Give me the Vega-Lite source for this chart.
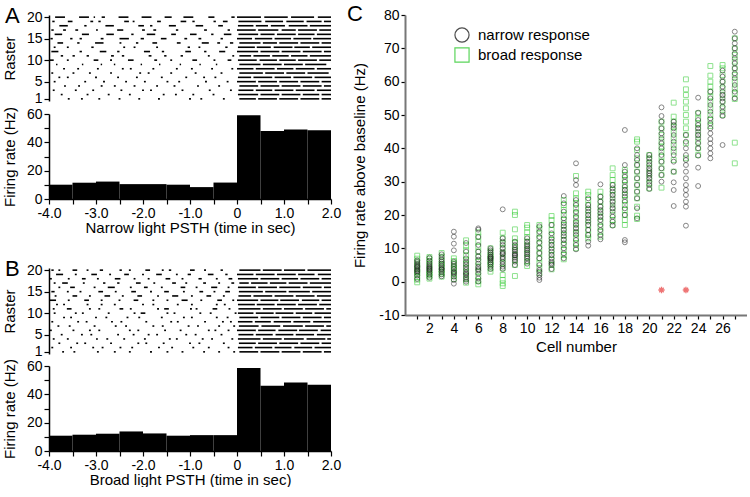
{
"$schema":"https://vega.github.io/schema/vega-lite/v6.json",
"padding":{"left":2,"top":3,"right":0,"bottom":0},
"background":"white",
"config":{"font":"Liberation Sans","view":{"stroke":null},
 "locale":{"number":{"decimal":".","thousands":",","grouping":[3],"currency":["$",""],"minus":"-"}},
 "axis":{"labelFont":"Liberation Sans","titleFont":"Liberation Sans","labelColor":"black","titleColor":"black","domainColor":"black","tickColor":"black","grid":false,"labelFontSize":14,"titleFontSize":15,"titleFontWeight":"normal","domainWidth":1.5,"tickWidth":1.2,"labelOverlap":false,"labelFlush":false},
 "legend":{"labelFont":"Liberation Sans"},
 "title":{"font":"Liberation Sans","fontWeight":"normal","fontSize":22,"color":"black"}},
"datasets":{
"psth":[
{"p":"A","t0":-4,"t1":-3.5,"r":10.1},{"p":"A","t0":-3.5,"t1":-3,"r":11.5},{"p":"A","t0":-3,"t1":-2.5,"r":12.3},{"p":"A","t0":-2.5,"t1":-2,"r":10.5},{"p":"A","t0":-2,"t1":-1.5,"r":10.5},{"p":"A","t0":-1.5,"t1":-1,"r":10.1},{"p":"A","t0":-1,"t1":-0.5,"r":8.4},{"p":"A","t0":-0.5,"t1":0,"r":11.6},{"p":"A","t0":0,"t1":0.5,"r":59.2},{"p":"A","t0":0.5,"t1":1,"r":48},{"p":"A","t0":1,"t1":1.5,"r":49},{"p":"A","t0":1.5,"t1":2,"r":48.5},
{"p":"B","t0":-4,"t1":-3.5,"r":10.8},{"p":"B","t0":-3.5,"t1":-3,"r":11.5},{"p":"B","t0":-3,"t1":-2.5,"r":12.2},{"p":"B","t0":-2.5,"t1":-2,"r":13.8},{"p":"B","t0":-2,"t1":-1.5,"r":12.4},{"p":"B","t0":-1.5,"t1":-1,"r":10.8},{"p":"B","t0":-1,"t1":-0.5,"r":11.2},{"p":"B","t0":-0.5,"t1":0,"r":11.2},{"p":"B","t0":0,"t1":0.5,"r":58.6},{"p":"B","t0":0.5,"t1":1,"r":46},{"p":"B","t0":1,"t1":1.5,"r":48.3},{"p":"B","t0":1.5,"t1":2,"r":46.7}],
"rasterA":[
{"t":20,"s":[-3.87,-3.36,-3.05,-2.88,-2.52,-2.03,-1.54,-1.14,-0.61,-0.12,0.0,0.58,1.15,1.72],"e":[-3.66,-3.15,-3.02,-2.81,-2.31,-1.82,-1.39,-0.93,-0.48,-0.05,0.51,1.08,1.64,2.0]},
{"t":19,"s":[-3.93,-3.6,-3.12,-2.95,-2.4,-2.22,-1.7,-1.2,-0.95,-0.5,-0.3,0.03,0.6,1.05,1.48,1.85],"e":[-3.88,-3.5,-3.06,-2.9,-2.3,-2.18,-1.62,-1.08,-0.9,-0.45,-0.2,0.52,0.98,1.42,1.8,2.0]},
{"t":18,"s":[-3.78,-3.25,-2.8,-2.1,-1.85,-1.45,-0.88,-0.4,0.02,0.4,0.72,1.1,1.55],"e":[-3.6,-3.2,-2.62,-1.98,-1.8,-1.3,-0.72,-0.3,0.35,0.66,1.02,1.5,2.0]},
{"t":17,"s":[-3.95,-3.7,-3.44,-3.0,-2.55,-2.02,-1.78,-1.3,-0.7,-0.2,0.0,0.45,0.95,1.3,1.75],"e":[-3.9,-3.64,-3.38,-2.96,-2.42,-1.96,-1.72,-1.25,-0.64,-0.15,0.4,0.88,1.25,1.7,2.0]},
{"t":16,"s":[-3.88,-3.3,-2.78,-2.25,-1.92,-1.4,-1.0,-0.55,-0.28,0.03,0.5,0.85,1.3,1.7],"e":[-3.72,-3.15,-2.62,-2.2,-1.74,-1.3,-0.86,-0.5,-0.12,0.45,0.8,1.25,1.65,2.0]},
{"t":15,"s":[-3.97,-3.55,-3.35,-2.9,-2.5,-2.05,-1.62,-1.12,-0.82,-0.35,0.0,0.38,0.8,1.2,1.62],"e":[-3.92,-3.5,-3.3,-2.84,-2.3,-1.98,-1.5,-1.06,-0.76,-0.3,0.32,0.75,1.15,1.58,2.0]},
{"t":14,"s":[-3.82,-3.4,-3.02,-2.5,-2.15,-1.8,-1.28,-0.75,-0.42,-0.15,0.05,0.55,0.9,1.35,1.8],"e":[-3.7,-3.35,-2.84,-2.46,-2.1,-1.7,-1.2,-0.6,-0.36,-0.08,0.5,0.85,1.3,1.75,2.0]},
{"t":13,"s":[-3.9,-3.62,-3.1,-2.42,-2.2,-1.72,-1.05,-0.82,-0.25,0.02,0.42,0.78,1.22,1.6],"e":[-3.86,-3.58,-3.05,-2.38,-2.16,-1.68,-1.0,-0.78,-0.2,0.38,0.72,1.18,1.55,2.0]},
{"t":12,"s":[-3.95,-3.35,-2.92,-2.55,-1.98,-1.6,-1.1,-0.7,-0.38,0.0,0.5,0.95,1.4,1.85],"e":[-3.8,-3.3,-2.78,-2.5,-1.85,-1.55,-0.98,-0.65,-0.25,0.45,0.9,1.35,1.8,2.0]},
{"t":11,"s":[-3.75,-3.5,-3.2,-2.68,-2.45,-1.88,-1.55,-1.2,-0.62,-0.1,0.05,0.35,0.75,1.15,1.55],"e":[-3.7,-3.45,-3.15,-2.62,-2.4,-1.82,-1.5,-1.15,-0.58,-0.06,0.3,0.7,1.1,1.5,2.0]},
{"t":10,"s":[-3.98,-3.62,-3.05,-2.7,-2.32,-1.76,-1.42,-0.95,-0.5,-0.2,0.02,0.48,0.9,1.3,1.75],"e":[-3.9,-3.58,-2.95,-2.66,-2.2,-1.7,-1.38,-0.85,-0.46,-0.12,0.42,0.85,1.25,1.7,2.0]},
{"t":9,"s":[-3.85,-3.3,-2.9,-2.62,-2.05,-1.66,-1.22,-0.8,-0.45,0.05,0.55,1.0,1.45],"e":[-3.82,-3.27,-2.87,-2.59,-2.02,-1.63,-1.19,-0.77,-0.42,0.5,0.95,1.4,1.9]},
{"t":8,"s":[-3.7,-3.4,-2.98,-2.45,-2.28,-1.8,-1.3,-0.98,-0.55,-0.12,0.0,0.4,0.85,1.25,1.7],"e":[-3.66,-3.36,-2.94,-2.41,-2.24,-1.76,-1.26,-0.94,-0.51,-0.08,0.35,0.8,1.2,1.65,2.0]},
{"t":7,"s":[-3.95,-3.5,-3.15,-2.7,-2.08,-1.9,-1.42,-0.9,-0.35,0.05,0.6,1.05,1.5],"e":[-3.91,-3.46,-3.11,-2.66,-2.04,-1.86,-1.38,-0.86,-0.31,0.55,1.0,1.45,1.95]},
{"t":6,"s":[-3.8,-3.62,-3.02,-2.55,-2.15,-1.62,-1.1,-0.72,-0.48,0.02,0.35,0.8,1.2,1.65],"e":[-3.76,-3.58,-2.98,-2.51,-2.11,-1.58,-1.06,-0.68,-0.44,0.3,0.75,1.15,1.6,2.0]},
{"t":5,"s":[-3.9,-3.25,-2.85,-2.38,-1.98,-1.5,-1.25,-0.68,-0.22,0.0,0.45,0.9,1.35,1.8],"e":[-3.86,-3.21,-2.81,-2.34,-1.94,-1.46,-1.21,-0.64,-0.18,0.4,0.85,1.3,1.75,2.0]},
{"t":4,"s":[-3.68,-3.38,-2.9,-2.62,-2.2,-1.72,-1.35,-0.85,-0.4,0.05,0.5,0.95,1.4,1.85],"e":[-3.64,-3.34,-2.86,-2.58,-2.16,-1.68,-1.31,-0.81,-0.36,0.45,0.9,1.35,1.8,2.0]},
{"t":3,"s":[-3.92,-3.45,-3.08,-2.48,-2.02,-1.85,-1.18,-0.6,-0.15,0.03,0.4,0.8,1.25,1.7],"e":[-3.88,-3.41,-3.04,-2.44,-1.98,-1.81,-1.14,-0.56,-0.11,0.35,0.75,1.2,1.65,2.0]},
{"t":2,"s":[-3.75,-3.2,-2.75,-2.3,-1.58,-1.32,-0.95,-0.52,0.02,0.5,0.95,1.4,1.8],"e":[-3.71,-3.16,-2.71,-2.26,-1.54,-1.28,-0.91,-0.48,0.45,0.9,1.35,1.75,2.0]},
{"t":1,"s":[-3.6,-3.32,-2.95,-2.52,-2.1,-1.68,-1.02,-0.78,-0.3,0.05,0.45,0.9,1.35,1.8],"e":[-3.56,-3.28,-2.91,-2.48,-2.06,-1.64,-0.98,-0.74,-0.26,0.4,0.85,1.3,1.75,2.0]}],
"rasterB":[
{"t":20,"s":[-3.95,-3.8,-3.5,-3.2,-2.92,-2.5,-2.3,-1.95,-1.6,-1.45,-1.0,-0.7,-0.35,0.05,0.55,1.0,1.5],"e":[-3.9,-3.76,-3.4,-3.16,-2.85,-2.45,-2.26,-1.85,-1.56,-1.4,-0.9,-0.66,-0.3,0.5,0.95,1.45,2.0]},
{"t":19,"s":[-3.85,-3.45,-3.1,-2.72,-2.4,-2.02,-1.72,-1.3,-1.05,-0.62,-0.25,0.0,0.4,0.85,1.3,1.72],"e":[-3.7,-3.41,-2.98,-2.68,-2.3,-1.98,-1.6,-1.26,-0.98,-0.5,-0.2,0.35,0.8,1.25,1.65,2.0]},
{"t":18,"s":[-3.98,-3.6,-3.3,-2.98,-2.6,-2.2,-1.9,-1.52,-1.18,-0.82,-0.45,-0.18,0.02,0.5,0.95,1.35,1.8],"e":[-3.94,-3.56,-3.22,-2.94,-2.48,-2.16,-1.86,-1.42,-1.14,-0.75,-0.41,-0.1,0.45,0.9,1.3,1.75,2.0]},
{"t":17,"s":[-3.9,-3.72,-3.28,-2.85,-2.55,-2.15,-1.78,-1.38,-1.1,-0.72,-0.4,-0.12,0.05,0.3,0.7,1.1,1.55],"e":[-3.86,-3.6,-3.24,-2.8,-2.5,-2.05,-1.74,-1.3,-1.06,-0.66,-0.36,-0.06,0.25,0.65,1.05,1.5,2.0]},
{"t":16,"s":[-3.8,-3.55,-3.05,-2.75,-2.28,-1.98,-1.62,-1.2,-0.88,-0.55,-0.2,0.02,0.45,0.9,1.4,1.85],"e":[-3.76,-3.45,-3.01,-2.6,-2.24,-1.9,-1.58,-1.1,-0.84,-0.42,-0.16,0.4,0.85,1.35,1.8,2.0]},
{"t":15,"s":[-3.95,-3.62,-3.35,-2.95,-2.6,-2.25,-1.85,-1.55,-1.15,-0.8,-0.5,-0.25,0.04,0.6,1.1,1.6],"e":[-3.88,-3.58,-3.31,-2.85,-2.56,-2.15,-1.81,-1.45,-1.11,-0.72,-0.46,-0.15,0.55,1.05,1.55,2.0]},
{"t":14,"s":[-3.88,-3.5,-3.15,-2.82,-2.45,-2.12,-1.7,-1.38,-0.98,-0.65,-0.3,0.03,0.35,0.8,1.25,1.7],"e":[-3.84,-3.4,-3.11,-2.7,-2.41,-2.02,-1.66,-1.25,-0.94,-0.55,-0.26,0.3,0.75,1.2,1.65,2.0]},
{"t":13,"s":[-3.98,-3.6,-3.25,-2.9,-2.52,-2.2,-1.8,-1.5,-1.18,-0.78,-0.42,-0.1,0.0,0.5,0.92,1.38,1.8],"e":[-3.85,-3.56,-3.15,-2.86,-2.48,-2.1,-1.76,-1.46,-1.05,-0.74,-0.32,-0.06,0.45,0.88,1.32,1.75,2.0]},
{"t":12,"s":[-3.85,-3.7,-3.2,-2.9,-2.62,-2.02,-1.8,-1.28,-0.98,-0.45,-0.28,0.02,0.42,0.85,1.3,1.75],"e":[-3.81,-3.66,-3.16,-2.86,-2.58,-1.98,-1.76,-1.24,-0.94,-0.41,-0.24,0.38,0.8,1.25,1.7,2.0]},
{"t":11,"s":[-3.92,-3.62,-3.15,-2.95,-2.5,-2.28,-1.7,-1.55,-1.0,-0.88,-0.52,-0.18,0.03,0.55,1.0,1.45,1.9],"e":[-3.88,-3.52,-3.11,-2.91,-2.42,-2.24,-1.66,-1.45,-0.96,-0.84,-0.42,-0.14,0.5,0.95,1.4,1.85,2.0]},
{"t":10,"s":[-3.9,-3.45,-3.3,-2.75,-2.2,-2.05,-1.5,-1.35,-0.8,-0.58,-0.05,0.02,0.4,0.82,1.25,1.65],"e":[-3.86,-3.41,-3.26,-2.71,-2.16,-1.95,-1.46,-1.31,-0.76,-0.54,-0.01,0.35,0.78,1.2,1.6,2.0]},
{"t":9,"s":[-3.7,-3.55,-3.02,-2.8,-2.35,-2.1,-1.62,-1.15,-0.98,-0.45,-0.22,0.05,0.5,0.95,1.4,1.85],"e":[-3.66,-3.51,-2.98,-2.76,-2.31,-2.06,-1.58,-1.11,-0.94,-0.41,-0.18,0.45,0.9,1.35,1.8,2.0]},
{"t":8,"s":[-3.95,-3.4,-3.22,-2.68,-2.48,-1.95,-1.42,-1.28,-0.7,-0.32,-0.15,0.02,0.38,0.78,1.2,1.62],"e":[-3.91,-3.36,-3.18,-2.64,-2.44,-1.91,-1.38,-1.24,-0.66,-0.28,-0.11,0.33,0.72,1.15,1.56,2.0]},
{"t":7,"s":[-3.82,-3.58,-3.05,-2.6,-2.38,-1.8,-1.6,-1.05,-0.85,-0.4,-0.08,0.04,0.52,0.98,1.45,1.9],"e":[-3.78,-3.54,-3.01,-2.56,-2.34,-1.76,-1.56,-1.01,-0.81,-0.36,-0.04,0.46,0.92,1.4,1.85,2.0]},
{"t":6,"s":[-3.98,-3.5,-3.15,-2.95,-2.3,-2.12,-1.55,-1.22,-0.62,-0.48,-0.2,0.0,0.45,0.88,1.32,1.78],"e":[-3.94,-3.46,-3.11,-2.91,-2.26,-2.08,-1.51,-1.18,-0.58,-0.44,-0.16,0.4,0.82,1.28,1.72,2.0]},
{"t":5,"s":[-3.75,-3.32,-3.12,-2.55,-2.22,-1.9,-1.72,-1.1,-0.9,-0.35,0.03,0.4,0.82,1.25,1.7],"e":[-3.71,-3.28,-3.08,-2.51,-2.18,-1.86,-1.68,-1.06,-0.86,-0.31,0.35,0.76,1.2,1.64,2.0]},
{"t":4,"s":[-3.92,-3.62,-3.0,-2.78,-2.42,-1.98,-1.45,-1.3,-0.75,-0.55,-0.12,0.02,0.55,1.0,1.48,1.92],"e":[-3.88,-3.58,-2.96,-2.74,-2.38,-1.94,-1.41,-1.26,-0.71,-0.51,-0.08,0.5,0.95,1.42,1.88,2.0]},
{"t":3,"s":[-3.8,-3.42,-3.25,-2.7,-2.12,-1.95,-1.58,-1.02,-0.82,-0.3,0.04,0.45,0.9,1.35,1.8],"e":[-3.76,-3.38,-3.21,-2.66,-2.08,-1.91,-1.54,-0.98,-0.78,-0.26,0.4,0.85,1.3,1.75,2.0]},
{"t":2,"s":[-3.95,-3.55,-3.08,-2.88,-2.5,-2.25,-1.68,-1.4,-0.95,-0.62,-0.2,0.02,0.38,0.8,1.22,1.65],"e":[-3.91,-3.51,-3.04,-2.84,-2.46,-2.21,-1.64,-1.36,-0.91,-0.58,-0.16,0.33,0.75,1.16,1.6,2.0]},
{"t":1,"s":[-3.72,-3.48,-2.98,-2.62,-2.3,-1.85,-1.5,-1.18,-0.72,-0.4,-0.08,0.05,0.5,0.95,1.4,1.85],"e":[-3.68,-3.44,-2.94,-2.58,-2.26,-1.81,-1.46,-1.14,-0.68,-0.36,-0.04,0.45,0.9,1.35,1.8,2.0]}],
"cells":[
{"cell":1,"g":"broad response","v":[-0.2,0.6,1.4,2.3,3.2,4.0,5.1,6.0,6.9,7.8,2.8,4.6]},
{"cell":1,"g":"narrow response","v":[0.8,1.8,2.6,3.1,3.7,4.2,4.8,5.3,5.9,6.4,3.4,4.5]},
{"cell":2,"g":"broad response","v":[0.9,1.6,2.4,3.0,3.8,4.6,5.3,6.1,6.8,7.4,2.2]},
{"cell":2,"g":"narrow response","v":[1.2,2.0,2.8,3.3,3.9,4.5,5.0,5.6,6.3,7.2,3.6,4.2]},
{"cell":3,"g":"broad response","v":[1.5,2.4,3.4,4.4,5.4,6.4,7.5,8.6,2.8,5.0]},
{"cell":3,"g":"narrow response","v":[1.6,2.2,3.0,3.6,4.1,4.7,5.4,6.0,6.6,7.4,8.2,3.8]},
{"cell":4,"g":"broad response","v":[0.8,1.7,2.6,3.5,4.4,5.3,6.2,7.0,4.0]},
{"cell":4,"g":"narrow response","v":[-0.6,0.5,1.5,2.3,3.0,3.8,4.6,5.3,6.0,9.4,11.4,13.5,15.0,2.7]},
{"cell":5,"g":"broad response","v":[-0.3,0.8,1.8,3.0,4.2,5.4,6.6,7.8,9.4,10.8,12.4]},
{"cell":5,"g":"narrow response","v":[0.0,0.6,1.2,2.0,2.8,3.6,4.4,5.2,6.0,7.0,9.0,11.6,2.4]},
{"cell":6,"g":"broad response","v":[-0.8,0.2,1.5,3.0,4.5,6.0,7.5,9.0,10.5,12.0,13.5,14.8]},
{"cell":6,"g":"narrow response","v":[0.0,1.0,2.4,3.4,4.4,5.4,6.6,7.6,9.0,11.0,13.4,15.6,16.0,3.8]},
{"cell":7,"g":"broad response","v":[3.0,4.0,5.0,6.0,7.0,8.0,9.0,10.0,5.5,7.5]},
{"cell":7,"g":"narrow response","v":[3.8,4.5,5.2,5.8,6.4,7.0,7.6,8.2,8.8,9.4,10.0,6.8,7.3]},
{"cell":8,"g":"broad response","v":[-1.3,-0.5,0.5,2.0,4.0,5.5,7.0,8.5,10.0,11.5,13.0,14.7]},
{"cell":8,"g":"narrow response","v":[3.8,4.5,5.2,6.0,6.8,7.4,8.2,9.0,10.0,11.0,12.0,13.0,21.7,8.5]},
{"cell":9,"g":"broad response","v":[1.7,5.0,6.5,8.0,9.5,10.5,11.8,13.0,15.7,20.0,21.0]},
{"cell":9,"g":"narrow response","v":[5.0,6.0,6.6,7.2,7.8,8.4,9.0,9.6,10.2,11.0,12.0,8.0]},
{"cell":10,"g":"broad response","v":[4.7,6.0,7.2,8.4,9.6,10.8,12.0,13.4,14.8,16.2,17.0]},
{"cell":10,"g":"narrow response","v":[5.4,6.2,7.0,7.6,8.2,8.8,9.4,10.0,10.6,11.2,12.0,13.0]},
{"cell":11,"g":"broad response","v":[2.5,4.0,5.5,7.0,8.5,10.0,11.5,13.0,14.5,16.0,17.0]},
{"cell":11,"g":"narrow response","v":[0.5,1.2,2.0,3.5,5.0,7.0,8.6,10.2,11.8,13.4,15.0,16.6,3.0]},
{"cell":12,"g":"broad response","v":[3.7,5.0,6.5,8.0,9.5,11.0,12.5,14.0,15.5,17.0,18.5,19.7]},
{"cell":12,"g":"narrow response","v":[3.8,5.0,6.0,7.0,8.0,9.0,10.0,11.0,12.0,13.0,14.5,17.0,5.5]},
{"cell":13,"g":"broad response","v":[6.7,8.0,9.5,11.0,12.5,14.0,15.5,17.0,18.5,20.0,21.5,23.0,24.5]},
{"cell":13,"g":"narrow response","v":[7.0,8.5,10.0,11.5,12.6,13.6,14.6,15.6,16.6,17.6,19.0,21.0,23.5,25.7]},
{"cell":14,"g":"broad response","v":[10.0,11.5,13.0,14.5,16.0,17.5,19.0,20.5,22.0,23.5,25.0,26.5,31.7]},
{"cell":14,"g":"narrow response","v":[9.7,11.0,12.5,14.0,15.0,16.0,17.0,18.0,19.5,21.0,23.0,24.5,29.0,30.5,35.5]},
{"cell":15,"g":"broad response","v":[13.0,14.0,15.5,17.0,18.5,20.0,21.5,23.0,24.5,26.0,27.0]},
{"cell":15,"g":"narrow response","v":[10.8,12.0,14.0,15.5,17.0,18.0,19.0,20.0,21.0,22.0,23.0,25.0]},
{"cell":16,"g":"broad response","v":[13.5,15.0,16.5,18.0,19.5,21.0,22.5,24.0,25.5,27.0]},
{"cell":16,"g":"narrow response","v":[12.7,14.0,15.5,17.0,18.5,19.5,20.5,21.5,22.5,24.0,25.5,29.2]},
{"cell":17,"g":"broad response","v":[17.0,18.5,20.0,22.0,24.0,26.0,27.5,29.0,30.5,32.0,34.0]},
{"cell":17,"g":"narrow response","v":[16.8,18.0,19.5,21.0,22.0,23.0,24.0,25.0,26.0,27.0,28.0,29.0]},
{"cell":18,"g":"broad response","v":[17.0,18.5,20.0,21.5,23.0,24.5,26.0,27.5,29.0,30.5,32.0,33.5]},
{"cell":18,"g":"narrow response","v":[11.8,12.5,20.0,22.0,24.0,25.5,26.5,27.5,28.5,30.0,31.5,33.0,35.0,45.5]},
{"cell":19,"g":"broad response","v":[18.8,19.8,22.5,25.0,27.0,29.0,31.0,33.0,35.0,37.0,39.5,42.0,42.7]},
{"cell":19,"g":"narrow response","v":[19.0,22.0,25.0,27.0,29.0,31.0,33.0,35.0,36.5,38.0,40.0]},
{"cell":20,"g":"broad response","v":[28.0,29.5,31.0,32.5,34.0,35.5,37.0,38.0]},
{"cell":20,"g":"narrow response","v":[27.8,29.0,30.0,31.0,31.8,32.5,33.2,34.0,35.0,36.0,37.0,38.0]},
{"cell":21,"g":"broad response","v":[28.2,32.0,34.0,36.0,37.5,39.0,40.5,42.0,44.0,46.0,48.0]},
{"cell":21,"g":"narrow response","v":[30.0,32.0,34.0,36.0,38.0,40.0,41.5,43.0,44.5,46.0,48.0,49.7,52.3]},
{"cell":22,"g":"broad response","v":[33.0,36.5,39.0,41.0,43.0,45.0,46.5,48.0,49.5,53.7]},
{"cell":22,"g":"narrow response","v":[22.7,27.5,29.8,33.0,36.0,38.0,40.0,42.0,44.0,46.0,47.0,48.0]},
{"cell":23,"g":"broad response","v":[37.0,41.5,44.0,46.0,48.0,50.0,52.0,54.0,56.0,57.7,60.7]},
{"cell":23,"g":"narrow response","v":[16.8,22.5,24.0,26.0,27.5,29.0,31.0,33.0,35.0,36.5,38.0,40.0,42.0,44.0]},
{"cell":24,"g":"broad response","v":[38.0,40.0,42.0,44.0,46.0,47.5,49.0,50.5]},
{"cell":24,"g":"narrow response","v":[28.7,34.2,37.8,40.0,41.5,43.0,44.0,45.0,46.0,47.0,48.5,50.7,55.2]},
{"cell":25,"g":"broad response","v":[46.7,48.5,50.0,52.0,54.0,55.5,57.0,58.5,60.0,61.8,64.7]},
{"cell":25,"g":"narrow response","v":[37.0,38.5,40.0,41.5,42.8,44.5,46.0,47.5,49.0,51.0,53.0,55.0,57.0]},
{"cell":26,"g":"broad response","v":[50.0,52.0,54.0,56.0,58.0,60.0,62.0,64.0,65.0]},
{"cell":26,"g":"narrow response","v":[41.0,49.7,51.0,52.5,54.0,55.0,56.0,57.0,58.5,60.0,61.5,63.3]},
{"cell":27,"g":"broad response","v":[35.5,41.7,54.8,56.5,58.0,60.0,62.0,64.0,66.0,68.0,70.0,73.0]},
{"cell":27,"g":"narrow response","v":[55.0,57.0,59.0,61.0,62.5,64.0,65.5,67.0,68.5,70.0,71.5,73.0,75.0]}],
"stars":[{"cell":21,"v":-2.5},{"cell":23,"v":-2.5}]
},
"hconcat":[
 {"vconcat":[
  {"vconcat":[
   {"width":282,"height":86,
    "title":{"text":"A","anchor":"start","frame":"group","offset":0,"dx":-44,"dy":18},
    "data":{"name":"rasterA"},
    "transform":[{"flatten":["s","e"]}],
    "mark":{"type":"rule","strokeWidth":1.6,"color":"black","strokeCap":"butt"},
    "encoding":{
     "x":{"field":"s","type":"quantitative","scale":{"domain":[-4,2],"nice":false},"axis":null},
     "x2":{"field":"e"},
     "y":{"field":"t","type":"quantitative","scale":{"domain":[0.5,20.5],"nice":false,"zero":false},"axis":{"values":[1,5,10,15,20],"title":"Raster","tickSize":5,"titlePadding":9,"labelOverlap":false}}}},
   {"width":282,"height":85,
    "data":{"name":"psth"},
    "transform":[{"filter":"datum.p == 'A'"}],
    "mark":{"type":"rect","color":"black"},
    "encoding":{
     "x":{"field":"t0","type":"quantitative","scale":{"domain":[-4,2],"nice":false},"axis":{"values":[-4,-3.5,-3,-2.5,-2,-1.5,-1,-0.5,0,0.5,1,1.5,2],"labelExpr":"datum.value % 1 != 0 ? '' : (datum.value == 0 ? '0' : format(datum.value, '.1f'))","title":"Narrow light PSTH (time in sec)","tickSize":5,"labelPadding":2,"titlePadding":0,"labelOverlap":false,"labelFlush":false}},
     "x2":{"field":"t1"},
     "y":{"field":"r","type":"quantitative","scale":{"domain":[0,60],"nice":false},"axis":{"values":[0,10,20,30,40,50,60],"labelExpr":"datum.value % 20 == 0 ? datum.label : ''","title":"Firing rate (Hz)","tickSize":5,"titlePadding":9,"labelOverlap":false}},
     "y2":{"datum":0}}}
  ],"spacing":0},
  {"vconcat":[
   {"width":282,"height":86,
    "title":{"text":"B","anchor":"start","frame":"group","offset":0,"dx":-44,"dy":18},
    "data":{"name":"rasterB"},
    "transform":[{"flatten":["s","e"]}],
    "mark":{"type":"rule","strokeWidth":1.6,"color":"black","strokeCap":"butt"},
    "encoding":{
     "x":{"field":"s","type":"quantitative","scale":{"domain":[-4,2],"nice":false},"axis":null},
     "x2":{"field":"e"},
     "y":{"field":"t","type":"quantitative","scale":{"domain":[0.5,20.5],"nice":false,"zero":false},"axis":{"values":[1,5,10,15,20],"title":"Raster","tickSize":5,"titlePadding":9,"labelOverlap":false}}}},
   {"width":282,"height":85,
    "data":{"name":"psth"},
    "transform":[{"filter":"datum.p == 'B'"}],
    "mark":{"type":"rect","color":"black"},
    "encoding":{
     "x":{"field":"t0","type":"quantitative","scale":{"domain":[-4,2],"nice":false},"axis":{"values":[-4,-3.5,-3,-2.5,-2,-1.5,-1,-0.5,0,0.5,1,1.5,2],"labelExpr":"datum.value % 1 != 0 ? '' : (datum.value == 0 ? '0' : format(datum.value, '.1f'))","title":"Broad light PSTH (time in sec)","tickSize":5,"labelPadding":2,"titlePadding":0,"labelOverlap":false,"labelFlush":false}},
     "x2":{"field":"t1"},
     "y":{"field":"r","type":"quantitative","scale":{"domain":[0,60],"nice":false},"axis":{"values":[0,10,20,30,40,50,60],"labelExpr":"datum.value % 20 == 0 ? datum.label : ''","title":"Firing rate (Hz)","tickSize":5,"titlePadding":9,"labelOverlap":false}},
     "y2":{"datum":0}}}
  ],"spacing":-1}
 ],"spacing":23},
 {"width":342,"height":300,
  "title":{"text":"C","anchor":"start","frame":"group","offset":0,"dx":-58,"dy":18},
  "encoding":{
   "x":{"field":"cell","type":"quantitative","scale":{"domain":[0,28],"nice":false,"zero":false},"axis":{"values":[1,2,3,4,5,6,7,8,9,10,11,12,13,14,15,16,17,18,19,20,21,22,23,24,25,26,27],"labelExpr":"datum.value % 2 == 0 ? datum.label : ''","title":"Cell number","tickSize":4,"domainColor":"#777","domainWidth":2,"titlePadding":4,"labelOverlap":false,"labelFlush":false,"labelBound":false}},
   "y":{"field":"v","type":"quantitative","scale":{"domain":[-10,80],"nice":false,"zero":false},"axis":{"values":[-10,0,10,20,30,40,50,60,70,80],"title":"Firing rate above baseline (Hz)","tickSize":4,"domainColor":"#777","domainWidth":2,"titlePadding":11,"labelOverlap":false,"labelFlush":false,"labelBound":false}}},
  "layer":[
   {"data":{"name":"cells"},
    "transform":[{"flatten":["v"]}],
    "mark":{"type":"point","filled":false,"strokeWidth":1,"opacity":0.55,"size":24},
    "encoding":{
     "color":{"field":"g","type":"nominal","scale":{"domain":["narrow response","broad response"],"range":["#222222","#33cc33"]},
      "legend":{"orient":"none","legendX":405,"legendY":12,"title":null,"symbolSize":200,"symbolStrokeWidth":1.2,"symbolOpacity":0.8,"labelFontSize":15,"labelColor":"black","rowPadding":0,"labelOffset":8}},
     "shape":{"field":"g","type":"nominal","scale":{"domain":["narrow response","broad response"],"range":["circle","square"]}}}},
   {"data":{"name":"stars"},
    "mark":{"type":"point","shape":"M-1,0L1,0M0,-1L0,1M-0.7,-0.7L0.7,0.7M-0.7,0.7L0.7,-0.7","size":40,"stroke":"#e83a3a","strokeWidth":1.3,"filled":false}}
  ]}
],
"spacing":6
}
